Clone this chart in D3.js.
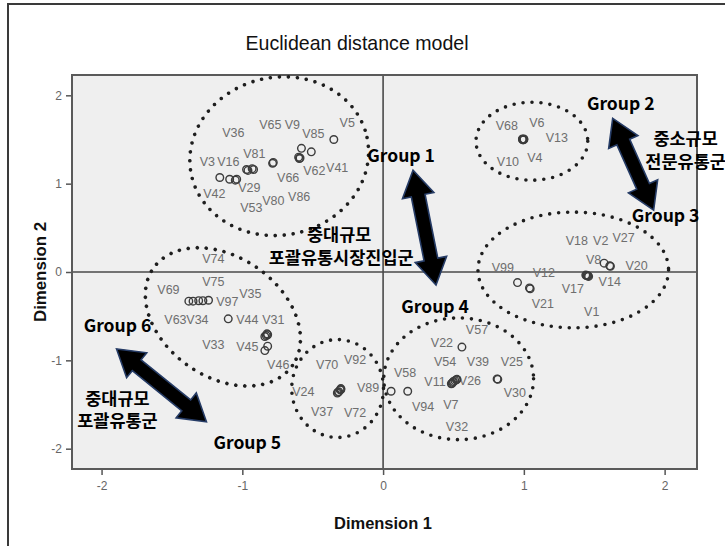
<!DOCTYPE html>
<html><head><meta charset="utf-8">
<script src="https://cdn.jsdelivr.net/npm/d3@7"></script>
<style>
html,body{margin:0;padding:0;background:#fff;overflow:hidden}
svg{display:block}
</style></head>
<body><svg id="chart" width="725" height="546"></svg>
<script>
// ---------- data ----------
const titleText = "Euclidean distance model";
const xAxisTitle = "Dimension 1";
const yAxisTitle = "Dimension 2";
const xTicks = [-2, -1, 0, 1, 2];
const yTicks = [-2, -1, 0, 1, 2];
const xDomain = [-2.21, 2.23];
const yDomain = [-2.23, 2.23];

// stimulus coordinates (Dimension 1, Dimension 2)
const pointsDim1 = [
  // group 1
  -0.35, -0.58, -0.51, -0.59, -0.60, -0.78, -0.785, -0.97, -0.96, -0.92, -0.93, -1.16, -1.09, -1.04, -1.05, -0.595,
  // group 2
  0.99, 1.00, 0.995, 0.99, 1.00,
  // group 3
  0.955, 1.04, 1.045, 1.44, 1.45, 1.46, 1.455, 1.445, 1.57, 1.61, 1.615,
  // group 4
  0.057, 0.175, 0.56, 0.52, 0.49, 0.50, 0.525, 0.485, 0.51, 0.495, 0.81, 0.815,
  // group 5
  -0.30, -0.32, -0.305, -0.315, -0.30, -0.325,
  // group 6
  -1.38, -1.35, -1.31, -1.28, -1.24, -1.10, -0.82, -0.84, -0.83, -0.825, -0.82, -0.84
];
const pointsDim2 = [
  1.50, 1.40, 1.36, 1.29, 1.30, 1.24, 1.23, 1.16, 1.15, 1.16, 1.17, 1.07, 1.05, 1.05, 1.04, 1.285,
  1.50, 1.505, 1.495, 1.505, 1.50,
  -0.12, -0.18, -0.19, -0.035, -0.04, -0.05, -0.045, -0.04, 0.10, 0.07, 0.065,
  -1.35, -1.35, -0.85, -1.22, -1.26, -1.24, -1.215, -1.265, -1.23, -1.25, -1.21, -1.215,
  -1.33, -1.36, -1.335, -1.355, -1.32, -1.37,
  -0.33, -0.33, -0.325, -0.325, -0.32, -0.53, -0.71, -0.73, -0.72, -0.70, -0.84, -0.89
];

// variable labels and where they sit (data units)
const labelNames = ["V36","V65","V9","V85","V5","V3","V16","V81","V29","V42","V66","V62","V41","V53","V80","V86",
  "V68","V6","V13","V10","V4",
  "V18","V2","V27","V99","V12","V8","V20","V17","V14","V21","V1",
  "V57","V22","V54","V39","V25","V58","V11","V26","V30","V94","V7","V32",
  "V70","V92","V89","V24","V37","V72",
  "V74","V75","V69","V97","V35","V63","V34","V44","V31","V33","V45","V46"];
const labelDim1 = [-1.064,-0.801,-0.645,-0.496,-0.255,-1.248,-1.099,-0.915,-0.950,-1.199,-0.674,-0.489,-0.326,-0.936,-0.780,-0.596,
  0.879,1.092,1.234,0.887,1.078,
  1.376,1.546,1.709,0.851,1.142,1.496,1.801,1.348,1.610,1.135,1.482,
  0.667,0.418,0.440,0.674,0.915,0.156,0.369,0.617,0.936,0.284,0.482,0.525,
  -0.397,-0.199,-0.106,-0.567,-0.433,-0.199,
  -1.206,-1.206,-1.525,-1.106,-0.943,-1.475,-1.319,-0.965,-0.780,-1.206,-0.965,-0.745];
const labelDim2 = [1.582,1.672,1.672,1.571,1.695,1.254,1.254,1.345,0.960,0.893,1.073,1.153,1.186,0.734,0.814,0.859,
  1.661,1.695,1.525,1.254,1.299,
  0.362,0.362,0.395,0.056,0.0,0.147,0.079,-0.192,-0.102,-0.362,-0.452,
  -0.655,-0.802,-1.017,-1.017,-1.017,-1.141,-1.243,-1.232,-1.367,-1.525,-1.503,-1.751,
  -1.051,-0.994,-1.311,-1.356,-1.582,-1.593,
  0.158,-0.102,-0.203,-0.339,-0.249,-0.542,-0.542,-0.542,-0.542,-0.825,-0.847,-1.051];

// group ellipses: centre (data), semi-axes (data units), rotation (deg)
const ellipseCx = [-0.738, 1.057, 1.351, 0.537, -0.323, -1.138];
const ellipseCy = [1.311, 1.480, 0.023, -1.209, -1.319, -0.508];
const ellipseRx = [0.638, 0.397, 0.677, 0.532, 0.326, 0.603];
const ellipseRy = [0.893, 0.441, 0.655, 0.689, 0.554, 0.678];
const ellipseRot = [-12, 0, 0, 0, 0, 35];

// double arrows: from / to (data)
const arrowX1 = [0.213, 1.631, -1.894];
const arrowY1 = [1.153, 1.740, -0.870];
const arrowX2 = [0.376, 1.922, -1.255];
const arrowY2 = [-0.147, 0.701, -1.695];

// annotation texts (anchor in data units, centre / baseline)
const noteTexts = ["Group 1","Group 2","중소규모","전문유통군","Group 3","중대규모","포괄유통시장진입군","Group 4","Group 6","중대규모","포괄유통군","Group 5"];
const noteDim1 = [0.128, 1.688, 2.149, 2.149, 2.007, -0.312, -0.298, 0.369, -1.887, -1.887, -1.887, -0.965];
const noteDim2 = [1.243, 1.831, 1.440, 1.180, 0.565, 0.356, 0.096, -0.463, -0.678, -1.500, -1.760, -2.0];

// ---------- drawing ----------
const svg = d3.select("#chart");
const x = d3.scaleLinear().domain(xDomain).range([72, 697]);
const y = d3.scaleLinear().domain(yDomain).range([469, 75]);

// outer frame
svg.append("rect").attr("x", 8).attr("y", 4).attr("width", 740).attr("height", 560)
  .attr("fill", "#fff").attr("stroke", "#3a3a3a").attr("stroke-width", 2);

svg.append("text").attr("x", 357).attr("y", 50).attr("text-anchor", "middle")
  .attr("font-family", "Liberation Sans, Arial, sans-serif").attr("font-size", 21)
  .attr("textLength", 223).attr("lengthAdjust", "spacingAndGlyphs")
  .attr("fill", "#111").text(titleText);

// plot background
svg.append("rect").attr("x", x(xDomain[0])).attr("y", y(yDomain[1]))
  .attr("width", x(xDomain[1]) - x(xDomain[0])).attr("height", y(yDomain[0]) - y(yDomain[1]))
  .attr("fill", "#efefef");

// zero reference lines
svg.append("line").attr("x1", x(0)).attr("x2", x(0)).attr("y1", y(yDomain[1])).attr("y2", y(yDomain[0]))
  .attr("stroke", "#4a4a4a").attr("stroke-width", 1.6);
svg.append("line").attr("x1", x(xDomain[0])).attr("x2", x(xDomain[1])).attr("y1", y(0)).attr("y2", y(0))
  .attr("stroke", "#4a4a4a").attr("stroke-width", 1.6);

// axes
const axFont = "Liberation Sans, Arial, sans-serif";
const gx = svg.append("g").attr("transform", `translate(0,${y(yDomain[0])})`)
  .call(d3.axisBottom(x).tickValues(xTicks).tickFormat(d => String(d)).tickSize(6).tickSizeOuter(0).tickPadding(6));
const gy = svg.append("g").attr("transform", `translate(${x(xDomain[0])},0)`)
  .call(d3.axisLeft(y).tickValues(yTicks).tickFormat(d => String(d)).tickSize(6).tickSizeOuter(0).tickPadding(4));
[gx, gy].forEach(g => {
  g.select(".domain").remove();
  g.selectAll(".tick line").attr("stroke", "#555").attr("stroke-width", 1.5);
  g.selectAll(".tick text").attr("fill", "#666").attr("font-family", axFont).attr("font-size", 12);
});

// plot border
svg.append("rect").attr("x", x(xDomain[0])).attr("y", y(yDomain[1]))
  .attr("width", x(xDomain[1]) - x(xDomain[0])).attr("height", y(yDomain[0]) - y(yDomain[1]))
  .attr("fill", "none").attr("stroke", "#5a5a5a").attr("stroke-width", 2);

// axis titles
svg.append("text").attr("x", 383).attr("y", 529).attr("text-anchor", "middle")
  .attr("font-family", axFont).attr("font-weight", "bold").attr("font-size", 17).attr("fill", "#111")
  .attr("textLength", 98).attr("lengthAdjust", "spacingAndGlyphs")
  .text(xAxisTitle);
svg.append("text").attr("transform", `translate(46,${y(0)}) rotate(-90)`).attr("text-anchor", "middle")
  .attr("font-family", axFont).attr("font-weight", "bold").attr("font-size", 17).attr("fill", "#111")
  .attr("textLength", 100).attr("lengthAdjust", "spacingAndGlyphs")
  .text(yAxisTitle);

// ellipses
const ell = svg.append("g");
ellipseCx.forEach((cx, i) => {
  const rx = Math.abs(x(ellipseRx[i]) - x(0));
  const ry = Math.abs(y(ellipseRy[i]) - y(0));
  ell.append("ellipse")
    .attr("transform", `translate(${x(cx)},${y(ellipseCy[i])}) rotate(${ellipseRot[i]})`)
    .attr("rx", rx).attr("ry", ry)
    .attr("fill", "none").attr("stroke", "#1e1e1e").attr("stroke-width", 3.6)
    .attr("stroke-linecap", "round").attr("stroke-dasharray", "0 9");
});

// labels
const labelData = labelNames.map((n, i) => ({n, a: labelDim1[i], b: labelDim2[i]}));
svg.append("g").selectAll("text").data(labelData).join("text")
  .attr("x", d => x(d.a)).attr("y", d => y(d.b)).attr("dy", "0.36em")
  .attr("text-anchor", "middle").attr("font-family", axFont).attr("font-size", 12.5)
  .attr("fill", "#6e6e6e").text(d => d.n);

// points
const ptData = pointsDim1.map((a, i) => ({a, b: pointsDim2[i]}));
svg.append("g").selectAll("circle").data(ptData).join("circle")
  .attr("cx", d => x(d.a)).attr("cy", d => y(d.b)).attr("r", 3.8)
  .attr("fill", "none").attr("stroke", "#3c3c3c").attr("stroke-width", 1.4);

// double-headed block arrows
function arrowPath(x1, y1, x2, y2) {
  const dx = x2 - x1, dy = y2 - y1, L = Math.hypot(dx, dy);
  const ux = dx / L, uy = dy / L, nx = -uy, ny = ux;
  const hl = 26, hw = 16, sw = 7;
  const pts = [
    [0, 0], [hl, hw], [hl, sw], [L - hl, sw], [L - hl, hw], [L, 0],
    [L - hl, -hw], [L - hl, -sw], [hl, -sw], [hl, -hw]
  ].map(([s, t]) => [x1 + ux * s + nx * t, y1 + uy * s + ny * t]);
  return "M" + pts.map(p => p.join(",")).join("L") + "Z";
}
const arr = svg.append("g");
arrowX1.forEach((a, i) => {
  arr.append("path")
    .attr("d", arrowPath(x(a), y(arrowY1[i]), x(arrowX2[i]), y(arrowY2[i])))
    .attr("fill", "#000").attr("stroke", "#263c66").attr("stroke-width", 1.6).attr("stroke-linejoin", "miter");
});

// annotations
svg.append("g").selectAll("text").data(noteTexts.map((t, i) => ({t, a: noteDim1[i], b: noteDim2[i]}))).join("text")
  .attr("x", d => x(d.a)).attr("y", d => y(d.b)).attr("text-anchor", "middle")
  .attr("font-family", "Noto Sans CJK KR, Noto Sans, sans-serif").attr("font-weight", "bold")
  .attr("font-size", 17.5).attr("fill", "#000").text(d => d.t);
</script>
</body></html>
